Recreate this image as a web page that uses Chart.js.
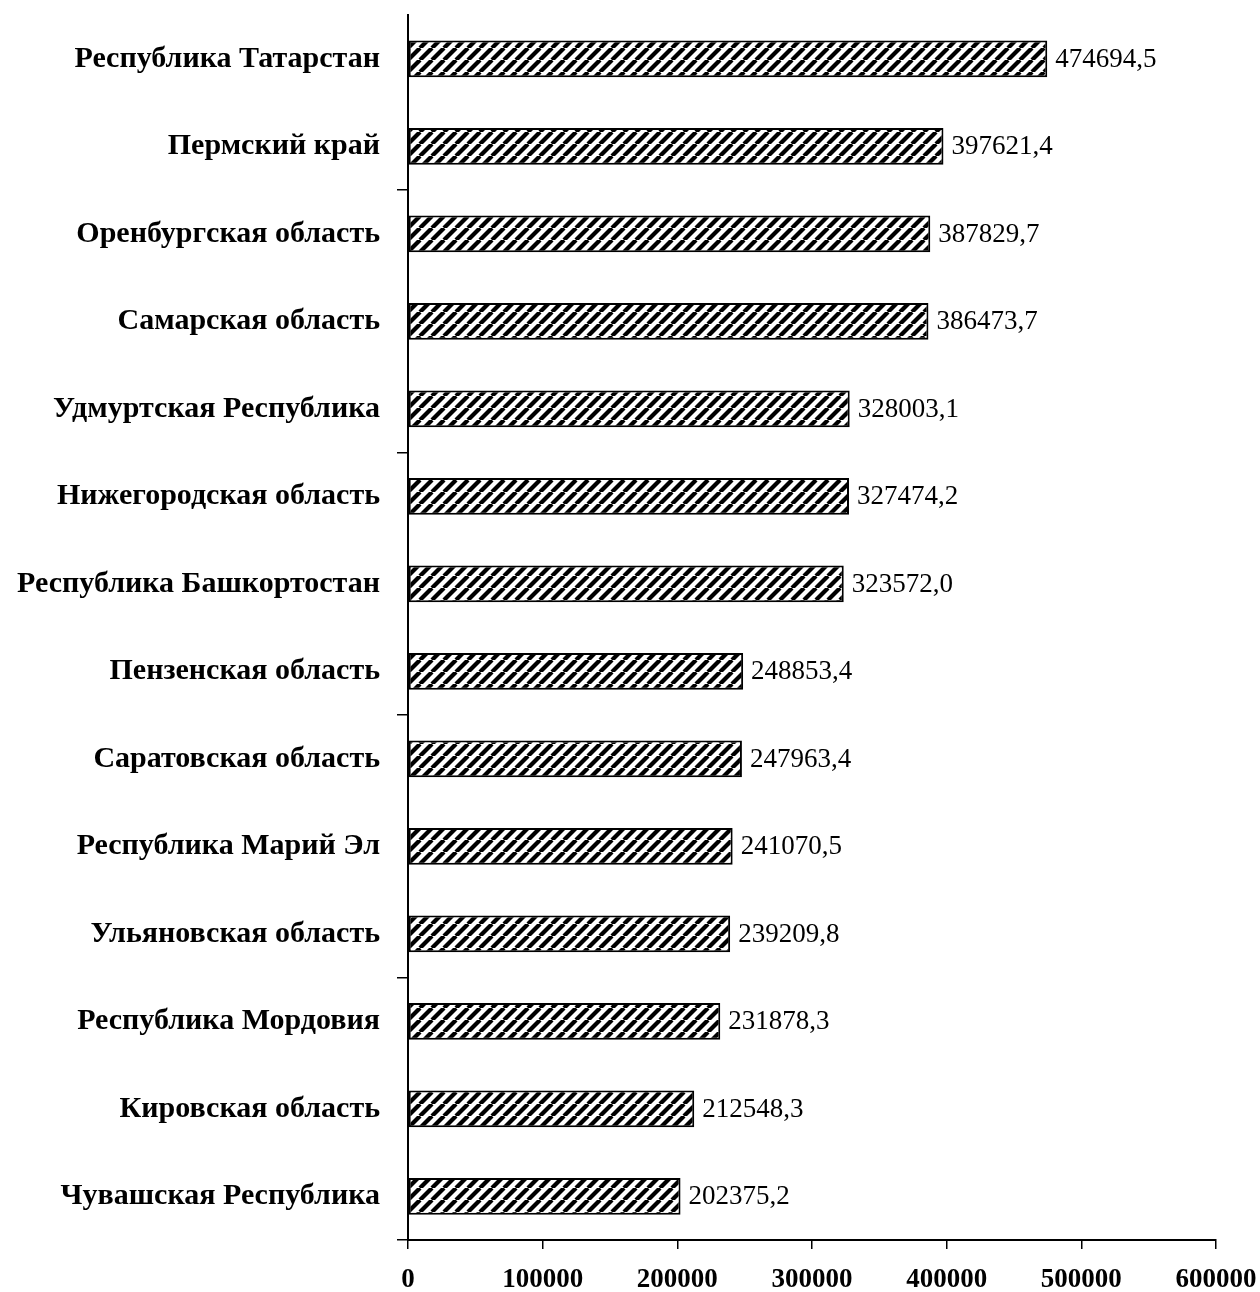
<!DOCTYPE html>
<html lang="ru">
  <head>
    <meta charset="utf-8">
    <script src="https://cdn.jsdelivr.net/npm/chart.js"></script>
    <title>Регионы</title>
    <style>
      body { margin: 0; background: #fff; }
      #wrap { width: 1260px; height: 1292px; }
    </style>
  </head>
  <body>
    <div id="wrap"><canvas id="chart"></canvas></div>
  </body>
  <script>
    // data
    const regions = [
      'Республика Татарстан',
      'Пермский край',
      'Оренбургская область',
      'Самарская область',
      'Удмуртская Республика',
      'Нижегородская область',
      'Республика Башкортостан',
      'Пензенская область',
      'Саратовская область',
      'Республика Марий Эл',
      'Ульяновская область',
      'Республика Мордовия',
      'Кировская область',
      'Чувашская Республика'
    ];
    const values = [474694.5, 397621.4, 387829.7, 386473.7, 328003.1, 327474.2, 323572.0,
                    248853.4, 247963.4, 241070.5, 239209.8, 231878.3, 212548.3, 202375.2];
    const xMin = 0, xMax = 600000, xStep = 100000;

    const serif = '"Liberation Serif", "Times New Roman", serif';

    // hatch "///"
    function hatch() {
      const s = 12;
      const c = document.createElement('canvas');
      c.width = s; c.height = s;
      const g = c.getContext('2d');
      g.fillStyle = '#fff';
      g.fillRect(0, 0, s, s);
      g.strokeStyle = '#000';
      g.lineWidth = 4.2;
      for (const o of [-s, 0, s]) {
        g.beginPath();
        g.moveTo(o, s);
        g.lineTo(o + s, 0);
        g.stroke();
      }
      return g.createPattern(c, 'repeat');
    }

    const valueLabels = {
      id: 'valueLabels',
      afterDatasetsDraw(chart) {
        const ctx = chart.ctx;
        const meta = chart.getDatasetMeta(0);
        ctx.save();
        ctx.font = '27px ' + serif;
        ctx.fillStyle = '#000';
        ctx.textAlign = 'left';
        ctx.textBaseline = 'middle';
        meta.data.forEach((bar, i) => {
          ctx.fillText(values[i].toFixed(1).replace('.', ','), bar.x + 8, bar.y + 1);
        });
        ctx.restore();
      }
    };

    const canvas = document.getElementById('chart');
    new Chart(canvas, {
      type: 'bar',
      data: {
        labels: regions,
        datasets: [{
          data: values,
          backgroundColor: hatch(),
          borderColor: '#000',
          borderWidth: 2,
          borderSkipped: false,
          categoryPercentage: 1,
          barPercentage: 0.42
        }]
      },
      options: {
        indexAxis: 'y',
        responsive: true,
        maintainAspectRatio: false,
        animation: false,
        layout: { padding: { top: 15, right: 44, left: 0, bottom: 0 } },
        plugins: {
          legend: { display: false },
          tooltip: { enabled: false }
        },
        scales: {
          x: {
            min: xMin,
            max: xMax,
            afterFit: s => { s.height = 52; s.paddingLeft = 0; s.paddingRight = 0; },
            ticks: {
              stepSize: xStep,
              color: '#000',
              padding: 15,
              callback: v => String(v),
              font: { family: serif, size: 27, weight: 'bold' }
            },
            grid: { drawOnChartArea: false, color: '#000', lineWidth: 1.5, tickLength: 9 },
            border: { color: '#000', width: 2 }
          },
          y: {
            afterFit: s => { s.width = 408; s.paddingTop = 0; s.paddingBottom = 0; },
            ticks: {
              color: '#000',
              padding: 17,
              font: { family: serif, size: 30, weight: 'bold' }
            },
            grid: {
              offset: true,
              drawOnChartArea: false,
              tickLength: 11,
              lineWidth: 1.5,
              // Excel-style: a mark every 3 categories, counted from the bottom
              color: c => (c.index === undefined || c.index % 3 === 2) ? '#000' : 'rgba(0,0,0,0)'
            },
            border: { color: '#000', width: 2 }
          }
        }
      },
      plugins: [valueLabels]
    });
  </script>
</html>
